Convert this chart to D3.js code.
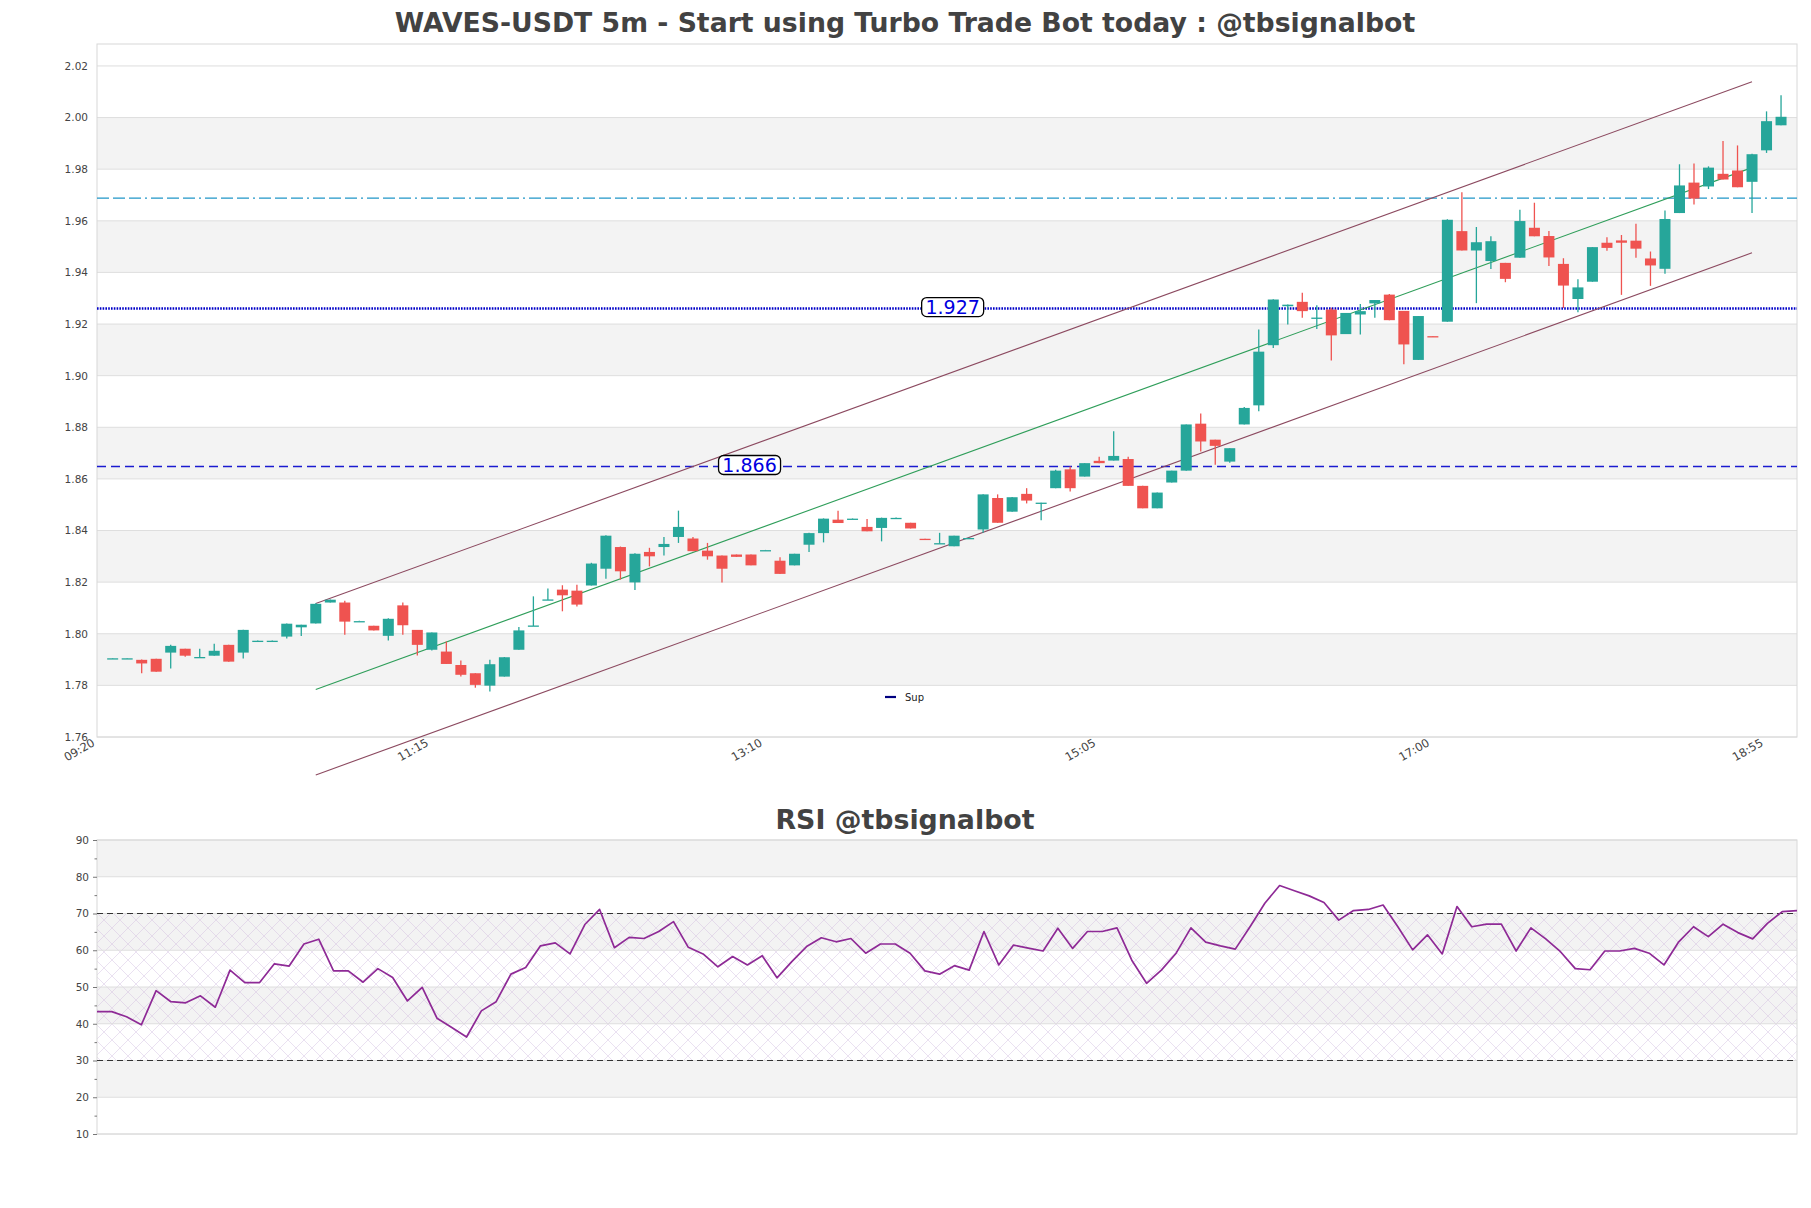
<!DOCTYPE html>
<html>
<head>
<meta charset="utf-8">
<script src="https://cdn.jsdelivr.net/npm/d3@7"></script>
<style>
  body { margin: 0; background: #fff; }
  svg { display: block; font-family: "DejaVu Sans", sans-serif; }
</style>
</head>
<body>
<div id="chart"></div>
<script>
// WAVES-USDT 5m candles + RSI panel

const tickLabels = ["09:20", "11:15", "13:10", "15:05", "17:00", "18:55"];

const opens = [
  1.7905, 1.7905, 1.7899, 1.7903, 1.7927, 1.7942, 1.7908, 1.7915, 1.7957, 1.7927,
  1.7973, 1.7973, 1.7989, 1.8025, 1.8040, 1.8121, 1.8121, 1.8049, 1.8031, 1.7992,
  1.8110, 1.8015, 1.7938, 1.7931, 1.7879, 1.7847, 1.7799, 1.7834, 1.7938, 1.8030,
  1.8131, 1.8171, 1.8167, 1.8187, 1.8252, 1.8336, 1.8199, 1.8317, 1.8336, 1.8375,
  1.8369, 1.8322, 1.8303, 1.8307, 1.8307, 1.8324, 1.8283, 1.8265, 1.8345, 1.8390,
  1.8442, 1.8446, 1.8414, 1.8410, 1.8449, 1.8430, 1.8368, 1.8349, 1.8339, 1.8371,
  1.8404, 1.8526, 1.8473, 1.8542, 1.8506, 1.8564, 1.8637, 1.8609, 1.8670, 1.8671,
  1.8677, 1.8573, 1.8486, 1.8586, 1.8632, 1.8814, 1.8752, 1.8667, 1.8811, 1.8885,
  1.9118, 1.9269, 1.9286, 1.9223, 1.9256, 1.9161, 1.9237, 1.9280, 1.9314, 1.9251,
  1.9061, 1.9153, 1.9209, 1.9560, 1.9485, 1.9444, 1.9437, 1.9457, 1.9573, 1.9541,
  1.9433, 1.9297, 1.9364, 1.9515, 1.9524, 1.9523, 1.9454, 1.9414, 1.9630, 1.9748,
  1.9733, 1.9782, 1.9795, 1.9751, 1.9873, 1.9970
];
const highs = [
  1.7906, 1.7906, 1.7900, 1.7903, 1.7957, 1.7942, 1.7942, 1.7961, 1.7957, 1.8016,
  1.7974, 1.7974, 1.8040, 1.8035, 1.8118, 1.8133, 1.8128, 1.8050, 1.8031, 1.8060,
  1.8121, 1.8015, 1.8005, 1.7970, 1.7896, 1.7847, 1.7899, 1.7910, 1.8026, 1.8145,
  1.8175, 1.8188, 1.8190, 1.8275, 1.8382, 1.8338, 1.8312, 1.8333, 1.8375, 1.8477,
  1.8375, 1.8352, 1.8303, 1.8307, 1.8307, 1.8325, 1.8296, 1.8310, 1.8391, 1.8447,
  1.8477, 1.8447, 1.8445, 1.8450, 1.8450, 1.8430, 1.8368, 1.8391, 1.8380, 1.8372,
  1.8541, 1.8540, 1.8530, 1.8564, 1.8508, 1.8635, 1.8648, 1.8661, 1.8686, 1.8785,
  1.8686, 1.8573, 1.8547, 1.8632, 1.8811, 1.8853, 1.8752, 1.8719, 1.8879, 1.9179,
  1.9296, 1.9276, 1.9321, 1.9273, 1.9263, 1.9243, 1.9278, 1.9293, 1.9316, 1.9251,
  1.9231, 1.9153, 1.9606, 1.9711, 1.9576, 1.9540, 1.9437, 1.9643, 1.9670, 1.9560,
  1.9455, 1.9374, 1.9498, 1.9536, 1.9545, 1.9589, 1.9481, 1.9640, 1.9819, 1.9822,
  1.9811, 1.9909, 1.9892, 1.9860, 2.0024, 2.0086
];
const lows = [
  1.7904, 1.7904, 1.7847, 1.7853, 1.7865, 1.7911, 1.7908, 1.7915, 1.7892, 1.7904,
  1.7972, 1.7972, 1.7982, 1.7991, 1.8040, 1.8121, 1.7996, 1.8048, 1.8013, 1.7974,
  1.7996, 1.7916, 1.7935, 1.7883, 1.7834, 1.7791, 1.7776, 1.7834, 1.7938, 1.8030,
  1.8131, 1.8087, 1.8106, 1.8187, 1.8213, 1.8210, 1.8170, 1.8261, 1.8303, 1.8352,
  1.8320, 1.8287, 1.8199, 1.8298, 1.8265, 1.8323, 1.8232, 1.8265, 1.8317, 1.8354,
  1.8429, 1.8445, 1.8397, 1.8358, 1.8448, 1.8408, 1.8364, 1.8349, 1.8339, 1.8370,
  1.8391, 1.8430, 1.8473, 1.8505, 1.8440, 1.8564, 1.8551, 1.8609, 1.8661, 1.8671,
  1.8573, 1.8486, 1.8486, 1.8586, 1.8632, 1.8706, 1.8655, 1.8663, 1.8811, 1.8862,
  1.9107, 1.9198, 1.9224, 1.9181, 1.9059, 1.9161, 1.9159, 1.9224, 1.9215, 1.9044,
  1.9061, 1.9151, 1.9209, 1.9485, 1.9281, 1.9413, 1.9362, 1.9457, 1.9540, 1.9425,
  1.9262, 1.9246, 1.9364, 1.9484, 1.9313, 1.9457, 1.9348, 1.9395, 1.9630, 1.9663,
  1.9723, 1.9760, 1.9730, 1.9630, 1.9863, 1.9970
];
const closes = [
  1.7905, 1.7905, 1.7885, 1.7853, 1.7953, 1.7915, 1.7910, 1.7934, 1.7892, 1.8015,
  1.7973, 1.7973, 1.8039, 1.8035, 1.8116, 1.8132, 1.8047, 1.8049, 1.8013, 1.8058,
  1.8033, 1.7957, 1.8005, 1.7883, 1.7841, 1.7802, 1.7882, 1.7909, 1.8013, 1.8032,
  1.8133, 1.8149, 1.8113, 1.8272, 1.8380, 1.8242, 1.8310, 1.8300, 1.8348, 1.8414,
  1.8320, 1.8300, 1.8252, 1.8298, 1.8265, 1.8324, 1.8232, 1.8310, 1.8390, 1.8446,
  1.8429, 1.8446, 1.8397, 1.8449, 1.8449, 1.8408, 1.8364, 1.8351, 1.8380, 1.8371,
  1.8540, 1.8430, 1.8529, 1.8516, 1.8508, 1.8632, 1.8564, 1.8661, 1.8661, 1.8689,
  1.8573, 1.8486, 1.8547, 1.8632, 1.8811, 1.8745, 1.8728, 1.8719, 1.8875, 1.9093,
  1.9295, 1.9275, 1.9250, 1.9225, 1.9156, 1.9243, 1.9250, 1.9293, 1.9215, 1.9121,
  1.9231, 1.9151, 1.9604, 1.9485, 1.9517, 1.9521, 1.9375, 1.9599, 1.9540, 1.9458,
  1.9349, 1.9342, 1.9498, 1.9495, 1.9515, 1.9492, 1.9427, 1.9607, 1.9737, 1.9686,
  1.9806, 1.9760, 1.9730, 1.9858, 1.9986, 2.0003
];

const rsi = [
  43.3, 43.3, 41.9, 39.7, 49.0, 46.0, 45.7, 47.6, 44.5, 54.6,
  51.2, 51.2, 56.3, 55.7, 61.7, 63.0, 54.4, 54.4, 51.3, 55.0,
  52.6, 46.2, 49.9, 41.5, 39.0, 36.4, 43.5, 46.0, 53.5, 55.3,
  61.2, 62.0, 59.0, 67.0, 71.1, 60.7, 63.5, 63.2, 65.1, 67.8,
  60.8, 59.0, 55.5, 58.3, 56.0, 58.5, 52.5, 56.9, 61.0, 63.4,
  62.3, 63.2, 59.2, 61.7, 61.7, 59.2, 54.4, 53.5, 55.8, 54.6,
  65.1, 56.0, 61.4, 60.6, 59.8, 66.0, 60.5, 65.1, 65.1, 66.1,
  57.3, 51.0, 54.6, 59.2, 66.1, 62.2, 61.2, 60.3, 66.4, 72.8,
  77.6, 76.2, 74.8, 73.0, 68.2, 70.8, 71.1, 72.3, 66.4, 60.1,
  64.2, 59.0, 71.9, 66.4, 67.1, 67.1, 59.8, 66.1, 63.1, 59.6,
  55.0, 54.7, 59.8, 59.8, 60.5, 59.2, 56.0, 62.3, 66.4, 63.7,
  67.1, 64.8, 63.1, 67.3, 70.5, 70.8
];

// channel: [start index, end index] and prices at both ends
const channelIdx = [14, 113];
const channelUpper = [1.8117, 2.0139];
const channelMid = [1.7784, 1.9806];
const channelLower = [1.7453, 1.9476];

const resistLevel = 1.9688;
const pivotLevel = 1.926;
const supLevel = 1.8648;
const levelLabels = ["1.927", "1.866"];
const levelLabelIdx = [57.9, 43.9];

const W = 1811, H = 1208;
const green = "#26a69a", red = "#ef5350";

const svg = d3.select("#chart").append("svg")
  .attr("width", W).attr("height", H);

const defs = svg.append("defs");
const hatch = defs.append("pattern")
  .attr("id", "hatch")
  .attr("patternUnits", "userSpaceOnUse")
  .attr("width", 16).attr("height", 16);
hatch.append("path")
  .attr("d", "M0,0 L16,16 M16,0 L0,16")
  .attr("stroke", "#d4bfe0")
  .attr("stroke-width", 0.6)
  .attr("fill", "none");

// ---------- main price panel ----------
const main = { left: 97, right: 1797, top: 44, bottom: 737 };
const x = d3.scaleLinear().domain([-1.08, 116.1]).range([main.left, main.right]);
const y = d3.scaleLinear().domain([1.76, 2.0285]).range([main.bottom, main.top]);

svg.append("text")
  .attr("x", 905).attr("y", 23).attr("dy", "0.35em")
  .attr("text-anchor", "middle")
  .attr("font-size", 26.7).attr("font-weight", "bold")
  .attr("fill", "#424242")
  .text("WAVES-USDT 5m - Start using Turbo Trade Bot today : @tbsignalbot");

const yTicks = d3.range(0, 14).map((i) => 1.76 + i * 0.02);
const bandLows = [1.78, 1.82, 1.86, 1.90, 1.94, 1.98];

const gMain = svg.append("g");

gMain.selectAll("rect.band")
  .data(bandLows)
  .enter()
  .append("rect")
  .attr("class", "band")
  .attr("x", main.left)
  .attr("width", main.right - main.left)
  .attr("y", (d) => y(d + 0.02))
  .attr("height", (d) => y(d) - y(d + 0.02))
  .attr("fill", "#f3f3f3");

gMain.selectAll("line.grid")
  .data(yTicks)
  .enter()
  .append("line")
  .attr("class", "grid")
  .attr("x1", main.left).attr("x2", main.right)
  .attr("y1", (d) => y(d)).attr("y2", (d) => y(d))
  .attr("stroke", "#dedede");

gMain.append("rect")
  .attr("x", main.left).attr("y", main.top)
  .attr("width", main.right - main.left)
  .attr("height", main.bottom - main.top)
  .attr("fill", "none")
  .attr("stroke", "#d8d8d8");

const yAxis = gMain.append("g")
  .attr("transform", `translate(${main.left},0)`)
  .call(d3.axisLeft(y).tickValues(yTicks).tickFormat(d3.format(".2f")).tickSize(0).tickPadding(9));
yAxis.select(".domain").remove();
yAxis.selectAll("text").attr("font-size", 10.5).attr("fill", "#444")
  .attr("font-family", "DejaVu Sans, sans-serif");

const xTickIdx = tickLabels.map((_, k) => 23 * k - 1);
const xAxis = gMain.append("g")
  .attr("transform", `translate(0,${main.bottom})`)
  .call(d3.axisBottom(x).tickValues(xTickIdx).tickFormat((d, i) => tickLabels[i]).tickSize(0));
xAxis.select(".domain").remove();
xAxis.selectAll("text")
  .attr("font-size", 11.5).attr("fill", "#444")
  .attr("font-family", "DejaVu Sans, sans-serif")
  .attr("text-anchor", "end")
  .attr("y", 0).attr("dy", null)
  .attr("transform", "translate(-3,8) rotate(-30)");

// horizontal levels
gMain.append("line")
  .attr("x1", main.left).attr("x2", main.right)
  .attr("y1", y(resistLevel)).attr("y2", y(resistLevel))
  .attr("stroke", "#2196c8").attr("stroke-width", 1.2)
  .attr("stroke-dasharray", "12,4,12,4,12,4,2,4");

gMain.append("line")
  .attr("x1", main.left).attr("x2", main.right)
  .attr("y1", y(pivotLevel)).attr("y2", y(pivotLevel))
  .attr("stroke", "#0000c8").attr("stroke-width", 2.6)
  .attr("stroke-dasharray", "1.6,1.2");

gMain.append("line")
  .attr("x1", main.left).attr("x2", main.right)
  .attr("y1", y(supLevel)).attr("y2", y(supLevel))
  .attr("stroke", "#1a1ad0").attr("stroke-width", 1.3)
  .attr("stroke-dasharray", "9,5");

// channel lines (not clipped, like the original)
const channel = [
  { v: channelUpper, color: "#8c4a60" },
  { v: channelLower, color: "#8c4a60" },
  { v: channelMid, color: "#2f9e5a" }
];
gMain.selectAll("line.channel")
  .data(channel)
  .enter()
  .append("line")
  .attr("class", "channel")
  .attr("x1", x(channelIdx[0])).attr("x2", x(channelIdx[1]))
  .attr("y1", (d) => y(d.v[0])).attr("y2", (d) => y(d.v[1]))
  .attr("stroke", (d) => d.color)
  .attr("stroke-width", 1.1);

// candles
const candles = opens.map((o, i) => ({ i, o, h: highs[i], l: lows[i], c: closes[i] }));
const bodyW = 11;
const cg = gMain.selectAll("g.candle")
  .data(candles)
  .enter()
  .append("g")
  .attr("class", "candle");

cg.append("line")
  .attr("x1", (d) => x(d.i)).attr("x2", (d) => x(d.i))
  .attr("y1", (d) => y(d.h)).attr("y2", (d) => y(d.l))
  .attr("stroke", (d) => (d.c >= d.o ? green : red))
  .attr("stroke-width", 1.3);

cg.append("rect")
  .attr("x", (d) => x(d.i) - bodyW / 2)
  .attr("width", bodyW)
  .attr("y", (d) => y(Math.max(d.o, d.c)))
  .attr("height", (d) => Math.max(1.3, Math.abs(y(d.o) - y(d.c))))
  .attr("fill", (d) => (d.c >= d.o ? green : red));

// level labels
const labelData = [
  { text: levelLabels[0], idx: levelLabelIdx[0], v: pivotLevel },
  { text: levelLabels[1], idx: levelLabelIdx[1], v: supLevel }
];
const lg = gMain.selectAll("g.lvl")
  .data(labelData)
  .enter()
  .append("g")
  .attr("class", "lvl")
  .attr("transform", (d) => `translate(${x(d.idx)},${y(d.v) - 1.5})`);
lg.append("rect")
  .attr("x", -31).attr("y", -9.5)
  .attr("width", 62).attr("height", 19)
  .attr("rx", 5)
  .attr("fill", "#fff").attr("stroke", "#000").attr("stroke-width", 1.3);
lg.append("text")
  .attr("text-anchor", "middle").attr("dy", "0.36em")
  .attr("font-size", 19).attr("fill", "#0000e0")
  .text((d) => d.text);

// legend
const leg = gMain.append("g").attr("transform", "translate(885,697)");
leg.append("line").attr("x1", 0).attr("x2", 11)
  .attr("stroke", "#000080").attr("stroke-width", 2.2);
leg.append("text").attr("x", 20).attr("dy", "0.35em")
  .attr("font-size", 10).attr("fill", "#222").text("Sup");

// ---------- RSI panel ----------
const rb = { left: 97, right: 1797, top: 840, bottom: 1134 };
const xr = d3.scaleLinear().domain([0, rsi.length - 1]).range([rb.left, rb.right]);
const yr = d3.scaleLinear().domain([10, 90]).range([rb.bottom, rb.top]);

svg.append("text")
  .attr("x", 905).attr("y", 820).attr("dy", "0.35em")
  .attr("text-anchor", "middle")
  .attr("font-size", 26.8).attr("font-weight", "bold")
  .attr("fill", "#424242")
  .text("RSI @tbsignalbot");

const gR = svg.append("g");
const rsiBands = [20, 40, 60, 80];
gR.selectAll("rect.band")
  .data(rsiBands)
  .enter()
  .append("rect")
  .attr("class", "band")
  .attr("x", rb.left).attr("width", rb.right - rb.left)
  .attr("y", (d) => yr(d + 10))
  .attr("height", (d) => yr(d) - yr(d + 10))
  .attr("fill", "#f3f3f3");

gR.append("rect")
  .attr("x", rb.left).attr("width", rb.right - rb.left)
  .attr("y", yr(70)).attr("height", yr(30) - yr(70))
  .attr("fill", "url(#hatch)").attr("opacity", 0.8);

const rTicks = d3.range(10, 91, 10);
gR.selectAll("line.grid")
  .data(rTicks)
  .enter()
  .append("line")
  .attr("class", "grid")
  .attr("x1", rb.left).attr("x2", rb.right)
  .attr("y1", (d) => yr(d)).attr("y2", (d) => yr(d))
  .attr("stroke", "#dedede");

gR.append("rect")
  .attr("x", rb.left).attr("y", rb.top)
  .attr("width", rb.right - rb.left).attr("height", rb.bottom - rb.top)
  .attr("fill", "none").attr("stroke", "#d8d8d8");

const rAxis = gR.append("g")
  .attr("transform", `translate(${rb.left},0)`)
  .call(d3.axisLeft(yr).tickValues(rTicks).tickSize(4).tickPadding(4));
rAxis.select(".domain").remove();
rAxis.selectAll("line").attr("stroke", "#777");
rAxis.selectAll("text").attr("font-size", 10.5).attr("fill", "#444")
  .attr("font-family", "DejaVu Sans, sans-serif");
const rMinor = gR.append("g")
  .attr("transform", `translate(${rb.left},0)`)
  .call(d3.axisLeft(yr).tickValues(d3.range(15, 90, 10)).tickSize(2.5).tickFormat(""));
rMinor.select(".domain").remove();
rMinor.selectAll("line").attr("stroke", "#777");

gR.selectAll("line.ob")
  .data([70, 30])
  .enter()
  .append("line")
  .attr("class", "ob")
  .attr("x1", rb.left).attr("x2", rb.right)
  .attr("y1", (d) => yr(d)).attr("y2", (d) => yr(d))
  .attr("stroke", "#333").attr("stroke-width", 1.2)
  .attr("stroke-dasharray", "6,4");

gR.append("path")
  .datum(rsi)
  .attr("fill", "none")
  .attr("stroke", "#8e2a96")
  .attr("stroke-width", 1.7)
  .attr("stroke-linejoin", "round")
  .attr("d", d3.line().x((d, i) => xr(i)).y((d) => yr(d)));
</script>
</body>
</html>
